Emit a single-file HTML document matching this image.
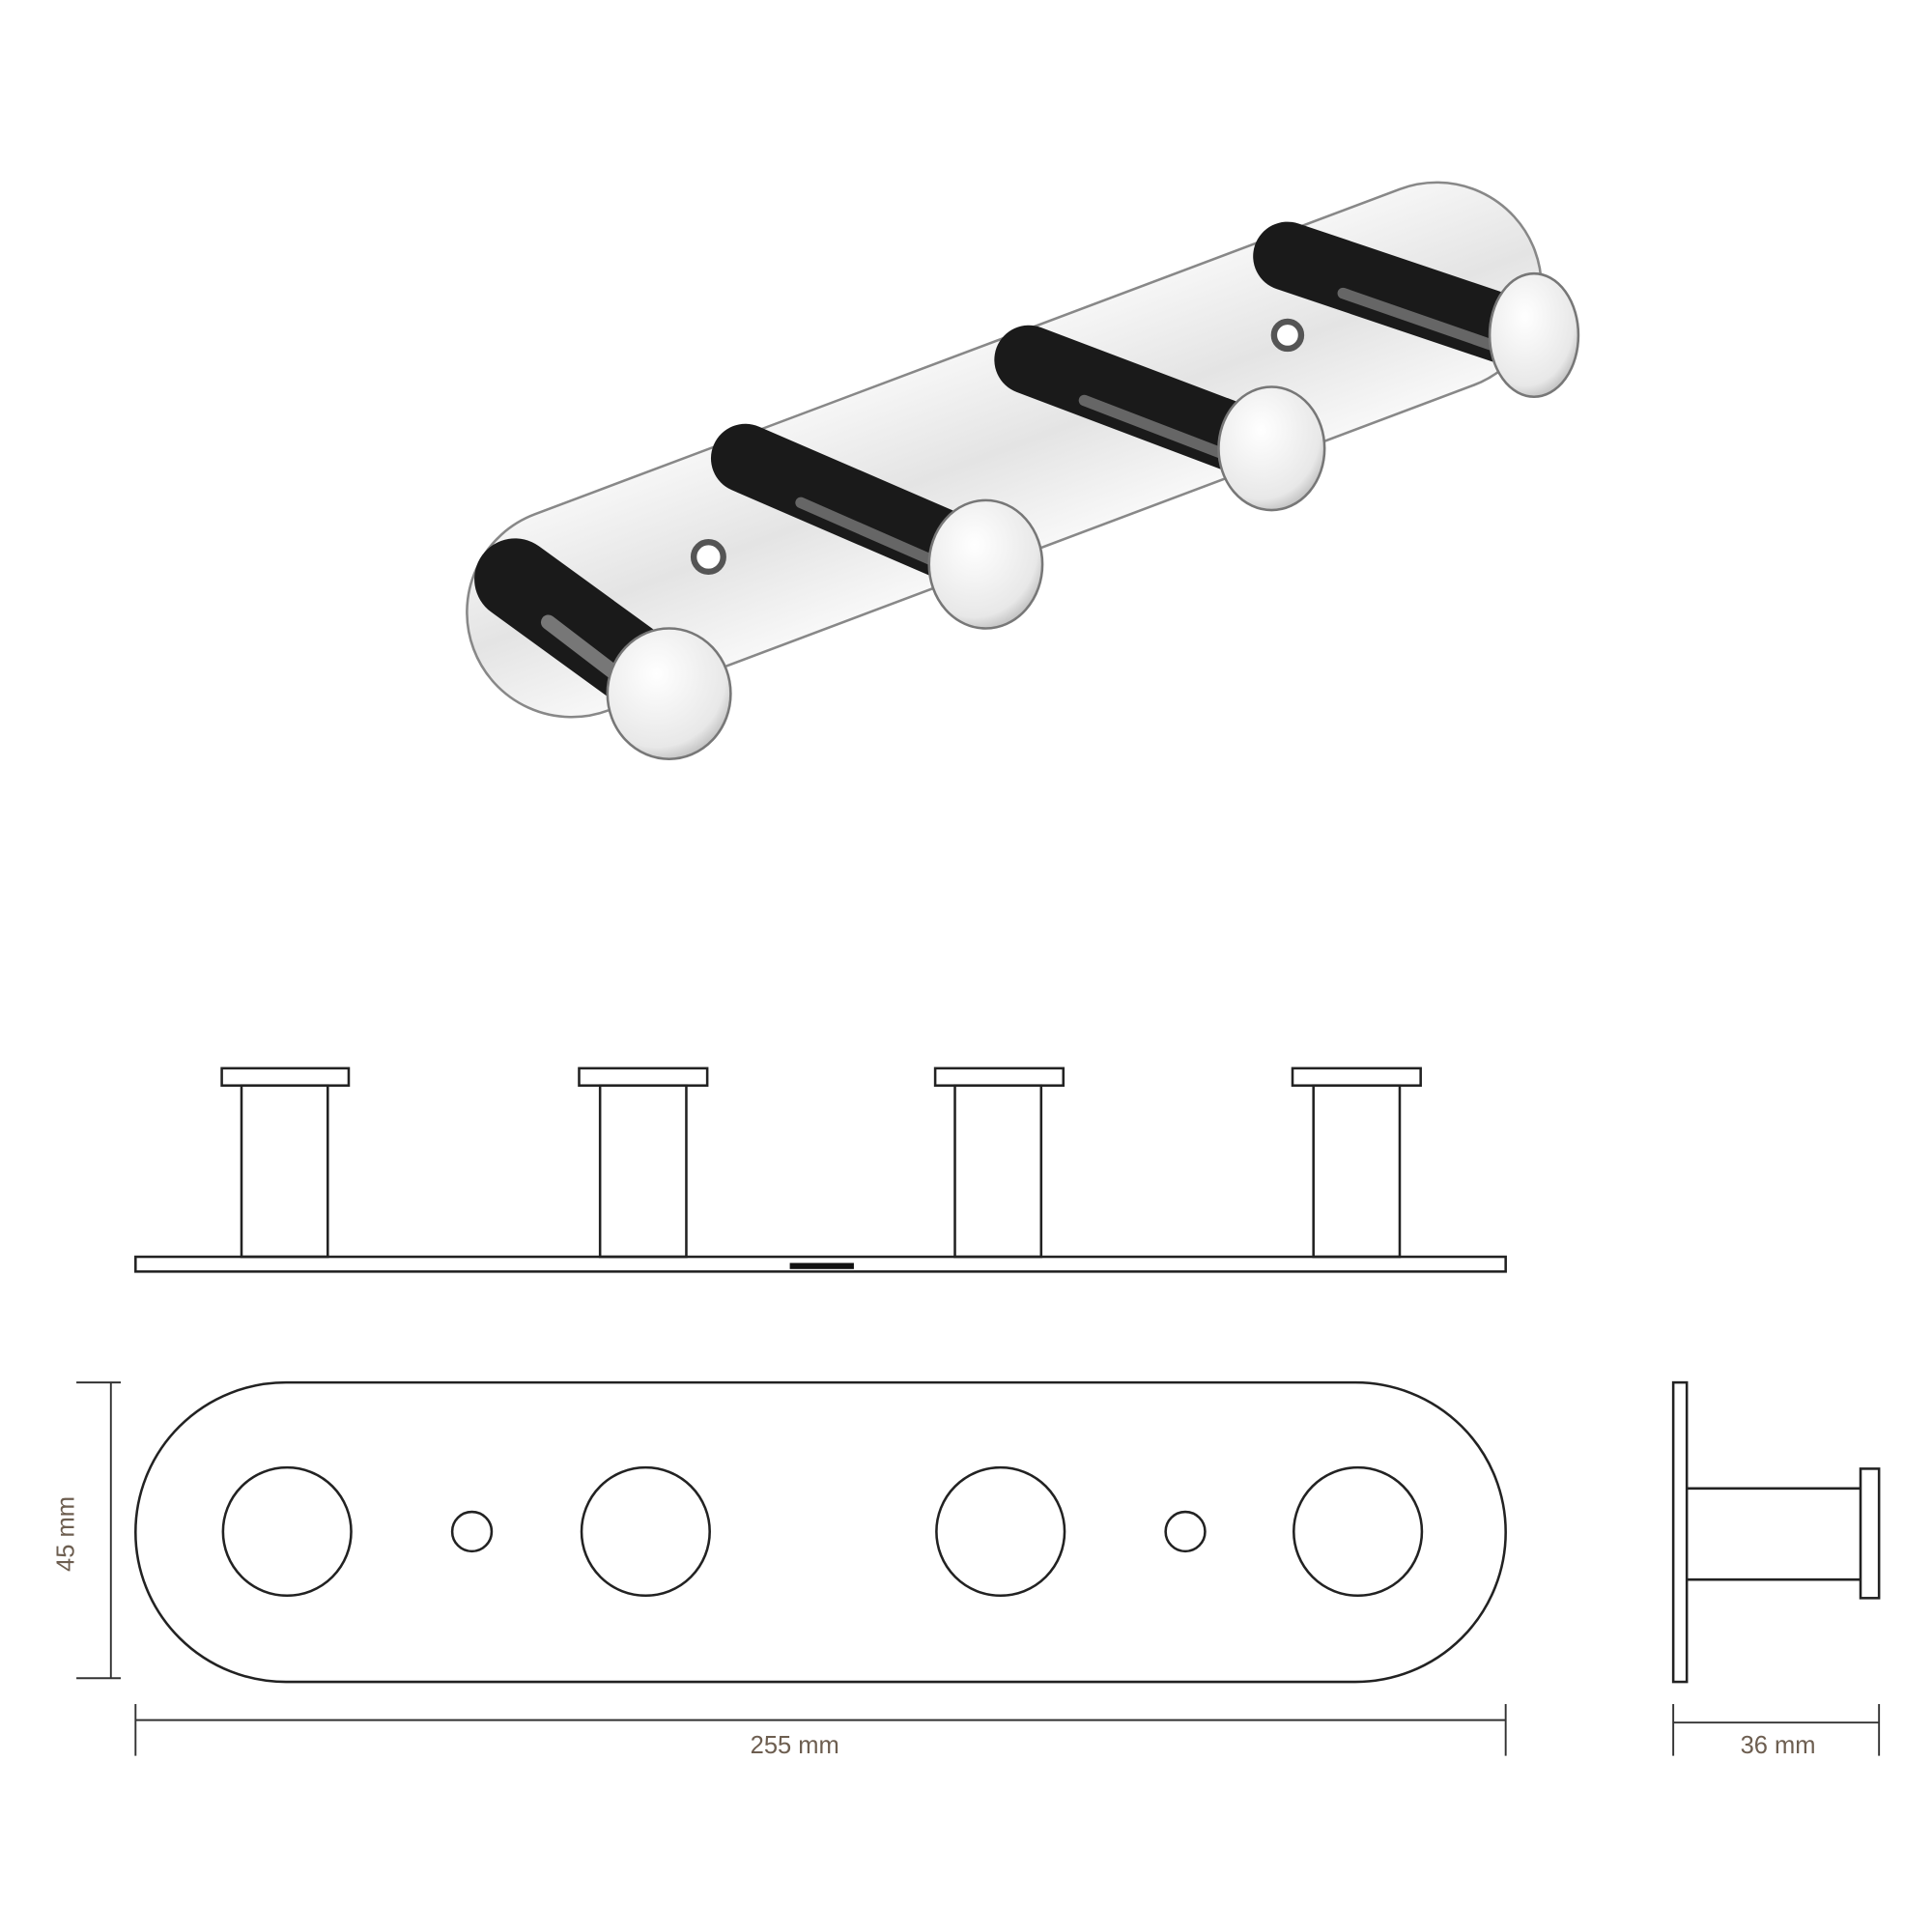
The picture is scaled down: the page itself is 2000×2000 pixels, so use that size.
<!DOCTYPE html>
<html><head><meta charset="utf-8"><style>html,body{margin:0;padding:0;background:#fff}svg{display:block}</style></head>
<body>
<svg width="2000" height="2000" viewBox="0 0 1568 1568" xmlns="http://www.w3.org/2000/svg">
<defs>
<linearGradient id="pl" x1="0" y1="0" x2="0" y2="1">
<stop offset="0" stop-color="#f6f6f6"/><stop offset="0.5" stop-color="#e4e4e4"/><stop offset="1" stop-color="#f8f8f8"/>
</linearGradient>
<radialGradient id="cap" cx="0.4" cy="0.35" r="0.8">
<stop offset="0" stop-color="#ffffff"/><stop offset="0.7" stop-color="#e8e8e8"/><stop offset="1" stop-color="#9a9a9a"/>
</radialGradient>
</defs>

<!-- photo -->
<rect x="-460" y="-85" width="920" height="170" rx="85" transform="translate(815,365) rotate(-20.6)" fill="url(#pl)" stroke="#888" stroke-width="2"/>
<g stroke-linecap="round">
<line x1="418" y1="470" x2="535" y2="555" stroke="#1a1a1a" stroke-width="66"/>
<line x1="605" y1="372" x2="790" y2="452" stroke="#1a1a1a" stroke-width="56"/>
<line x1="835" y1="292" x2="1020" y2="362" stroke="#1a1a1a" stroke-width="56"/>
<line x1="1045" y1="208" x2="1235" y2="272" stroke="#1a1a1a" stroke-width="56"/>
<line x1="445" y1="505" x2="530" y2="570" stroke="#777" stroke-width="12"/>
<line x1="650" y1="408" x2="780" y2="465" stroke="#666" stroke-width="9"/>
<line x1="880" y1="325" x2="1010" y2="375" stroke="#666" stroke-width="9"/>
<line x1="1090" y1="238" x2="1225" y2="285" stroke="#666" stroke-width="9"/>
</g>
<ellipse cx="543" cy="563" rx="50" ry="53" fill="url(#cap)" stroke="#777" stroke-width="2"/>
<ellipse cx="800" cy="458" rx="46" ry="52" fill="url(#cap)" stroke="#777" stroke-width="2"/>
<ellipse cx="1032" cy="364" rx="43" ry="50" fill="url(#cap)" stroke="#777" stroke-width="2"/>
<ellipse cx="1245" cy="272" rx="36" ry="50" fill="url(#cap)" stroke="#777" stroke-width="2"/>
<circle cx="575" cy="452" r="12" fill="#fff" stroke="#555" stroke-width="5"/>
<circle cx="1045" cy="272" r="11" fill="#fff" stroke="#555" stroke-width="5"/>

<g fill="none" stroke="#222" stroke-width="2">
<rect x="110" y="1020" width="1112" height="12"/>
<rect x="180" y="867" width="103" height="14"/><rect x="196" y="881" width="70" height="139"/>
<rect x="470" y="867" width="104" height="14"/><rect x="487" y="881" width="70" height="139"/>
<rect x="759" y="867" width="104" height="14"/><rect x="775" y="881" width="70" height="139"/>
<rect x="1049" y="867" width="104" height="14"/><rect x="1066" y="881" width="70" height="139"/>
<rect x="110" y="1122" width="1112" height="243" rx="122" ry="122"/>
<circle cx="233" cy="1243" r="52"/><circle cx="524" cy="1243" r="52"/>
<circle cx="812" cy="1243" r="52"/><circle cx="1102" cy="1243" r="52"/>
<circle cx="383" cy="1243" r="16"/><circle cx="962" cy="1243" r="16"/>
<rect x="1358" y="1122" width="11" height="243"/>
<line x1="1369" y1="1208" x2="1510" y2="1208"/><line x1="1369" y1="1282" x2="1510" y2="1282"/>
<rect x="1510" y="1192" width="15" height="105"/>
</g>
<rect x="641" y="1025" width="52" height="5" fill="#111"/>
<g stroke="#333" stroke-width="1.5" fill="none">
<line x1="90" y1="1122" x2="90" y2="1362"/><line x1="62" y1="1122" x2="98" y2="1122"/><line x1="62" y1="1362" x2="98" y2="1362"/>
<line x1="110" y1="1396" x2="1222" y2="1396"/><line x1="110" y1="1383" x2="110" y2="1425"/><line x1="1222" y1="1383" x2="1222" y2="1425"/>
<line x1="1358" y1="1398" x2="1525" y2="1398"/><line x1="1358" y1="1383" x2="1358" y2="1425"/><line x1="1525" y1="1383" x2="1525" y2="1425"/>
</g>
<g font-family="Liberation Sans, sans-serif" font-size="20" fill="#6d5e50" text-anchor="middle">
<text x="645" y="1423">255 mm</text>
<text x="1443" y="1423">36 mm</text>
<text transform="translate(60,1245) rotate(-90)">45 mm</text>
</g>
</svg>
</body></html>
